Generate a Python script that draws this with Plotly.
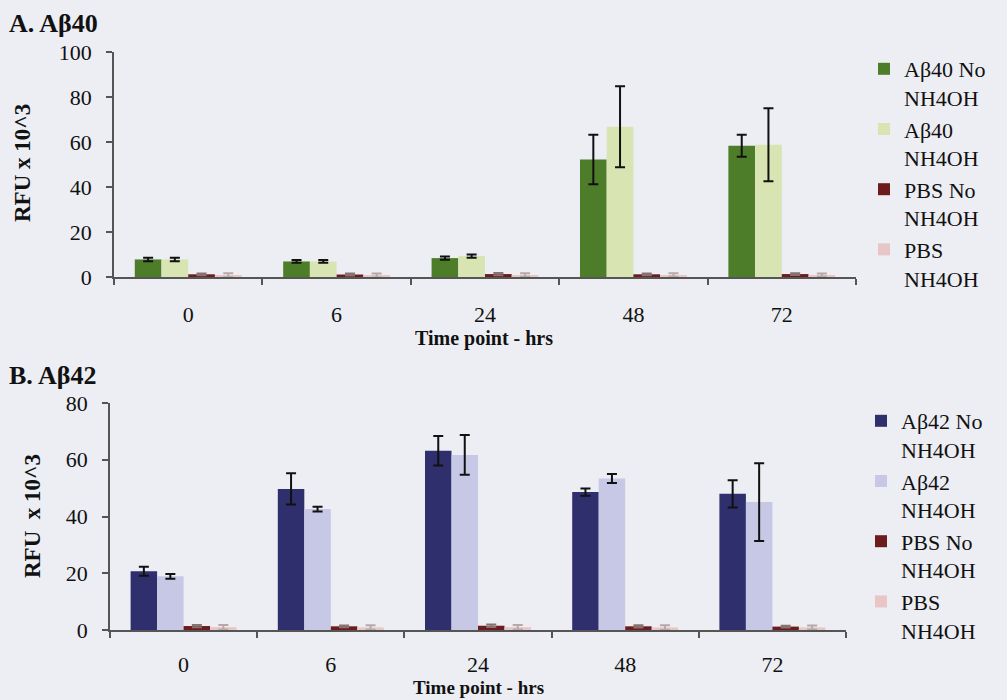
import plotly.graph_objects as go

# ---- data ----
time_points = ["0", "6", "24", "48", "72"]

ab40_no = [7.8, 6.9, 8.4, 52.2, 58.3]
ab40_no_err = [0.8, 0.6, 0.7, 11.0, 4.9]
ab40_nh = [7.8, 6.9, 9.3, 66.8, 58.8]
ab40_nh_err = [0.8, 0.6, 0.7, 18.0, 16.2]
pbs40_no = [1.2, 1.1, 1.3, 1.2, 1.3]
pbs40_no_err = [0.4, 0.4, 0.5, 0.4, 0.4]
pbs40_nh = [0.8, 0.7, 0.9, 0.9, 0.8]
pbs40_nh_err = [0.9, 0.9, 0.8, 0.8, 0.7]

ab42_no = [20.7, 49.7, 63.2, 48.6, 48.0]
ab42_no_err = [1.6, 5.5, 5.2, 1.3, 4.8]
ab42_nh = [18.9, 42.6, 61.7, 53.4, 45.1]
ab42_nh_err = [0.8, 0.8, 7.0, 1.6, 13.7]
pbs42_no = [1.4, 1.3, 1.5, 1.3, 1.2]
pbs42_no_err = [0.4, 0.3, 0.4, 0.4, 0.3]
pbs42_nh = [1.0, 0.9, 1.0, 0.9, 0.9]
pbs42_nh_err = [0.8, 0.8, 0.8, 0.8, 0.7]

names40 = ["Aβ40 No<br>NH4OH", "Aβ40<br>NH4OH", "PBS No<br>NH4OH", "PBS<br>NH4OH"]
names42 = ["Aβ42 No<br>NH4OH", "Aβ42<br>NH4OH", "PBS No<br>NH4OH", "PBS<br>NH4OH"]

colors40 = ["#4e7d2a", "#d8e5b2", "#6c1c1c", "#e8c6c6"]
colors42 = ["#2e2f6c", "#c7c8e5", "#6c1c1c", "#e8c6c6"]
err_colors = ["#111111", "#111111", "#8a7070", "#b8a8a8"]

FONT = "Liberation Serif"
BG = "#eceef3"
W, H = 1007, 700

fig = go.Figure()

series40 = [(ab40_no, ab40_no_err), (ab40_nh, ab40_nh_err),
            (pbs40_no, pbs40_no_err), (pbs40_nh, pbs40_nh_err)]
series42 = [(ab42_no, ab42_no_err), (ab42_nh, ab42_nh_err),
            (pbs42_no, pbs42_no_err), (pbs42_nh, pbs42_nh_err)]

for i, (vals, errs) in enumerate(series40):
    fig.add_trace(go.Bar(
        x=time_points, y=vals, name=names40[i],
        marker=dict(color=colors40[i], line=dict(width=0)),
        error_y=dict(type="data", array=errs, color=err_colors[i], thickness=2, width=5),
        xaxis="x", yaxis="y", legend="legend",
    ))

for i, (vals, errs) in enumerate(series42):
    fig.add_trace(go.Bar(
        x=time_points, y=vals, name=names42[i],
        marker=dict(color=colors42[i], line=dict(width=0)),
        error_y=dict(type="data", array=errs, color=err_colors[i], thickness=2, width=5),
        xaxis="x2", yaxis="y2", legend="legend2",
    ))

def px_x(p):
    return p / W

def px_y(p):
    return 1 - p / H

axis_common = dict(
    showgrid=False, zeroline=False, showline=True, linecolor="#555555", linewidth=1.5,
    ticks="outside", tickcolor="#555555", ticklen=6, tickwidth=1.5, automargin=False,
    tickfont=dict(family=FONT, size=22, color="#111111"),
)

legend_font = dict(family=FONT, size=22, color="#111111")

fig.update_layout(
    template="none",
    width=W, height=H,
    margin=dict(l=0, r=0, t=0, b=0, pad=0),
    paper_bgcolor=BG, plot_bgcolor=BG,
    barmode="group", bargap=0.28, bargroupgap=0,
    font=dict(family=FONT, color="#111111"),
    xaxis=dict(domain=[px_x(114), px_x(856)], anchor="y", type="category",
               tickson="boundaries", ticklabelstandoff=17, **axis_common),
    yaxis=dict(domain=[px_y(277), px_y(52)], anchor="x", range=[0, 100], dtick=20,
               ticklabelstandoff=10, **axis_common),
    xaxis2=dict(domain=[px_x(110), px_x(846)], anchor="y2", type="category",
                tickson="boundaries", ticklabelstandoff=14, **axis_common),
    yaxis2=dict(domain=[px_y(630), px_y(403)], anchor="x2", range=[0, 80], dtick=20,
                ticklabelstandoff=10, **axis_common),
    legend=dict(x=px_x(864), y=px_y(48), xanchor="left", yanchor="top", valign="top",
                bgcolor="rgba(0,0,0,0)", font=legend_font, itemclick=False),
    legend2=dict(x=px_x(861), y=px_y(400), xanchor="left", yanchor="top", valign="top",
                 bgcolor="rgba(0,0,0,0)", font=legend_font, itemclick=False),
)

ann_font_title = dict(family=FONT, size=26, color="#111111")
ann_font_axis = dict(family=FONT, size=23, color="#111111")
ann_font_xt = dict(family=FONT, size=20, color="#111111")

annotations = [
    dict(text="<b>A. Aβ40</b>", x=px_x(7), y=px_y(24), xanchor="left", yanchor="middle",
         font=ann_font_title),
    dict(text="<b>B. Aβ42</b>", x=px_x(7), y=px_y(375), xanchor="left", yanchor="middle",
         font=ann_font_title),
    dict(text="<b>RFU x 10^3</b>", x=px_x(22), y=px_y(163), textangle=-90,
         xanchor="center", yanchor="middle", font=ann_font_axis),
    dict(text="<b>RFU  x 10^3</b>", x=px_x(32), y=px_y(516), textangle=-90,
         xanchor="center", yanchor="middle", font=ann_font_axis),
    dict(text="<b>Time point - hrs</b>", x=px_x(484), y=px_y(339),
         xanchor="center", yanchor="middle", font=ann_font_xt),
    dict(text="<b>Time point - hrs</b>", x=px_x(478), y=px_y(700),
         xanchor="center", yanchor="bottom", font=dict(family=FONT, size=19, color="#111111")),
]
for a in annotations:
    a.update(xref="paper", yref="paper", showarrow=False)
fig.update_layout(annotations=annotations)

fig.write_html("out.html")
